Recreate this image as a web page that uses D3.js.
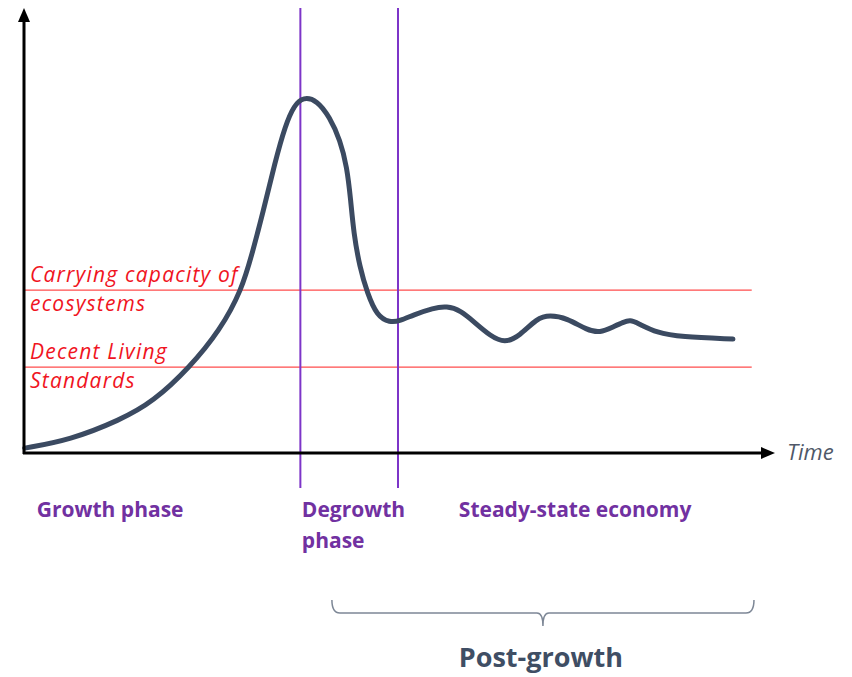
<!DOCTYPE html>
<html>
<head>
<meta charset="utf-8">
<script src="https://cdn.jsdelivr.net/npm/d3@7"></script>
<style>
  body { margin: 0; background: #fff; }
  text { font-family: "Open Sans", Lato, sans-serif; }
</style>
</head>
<body>
<div id="chart"></div>
<script>
const WIDTH = 852
const HEIGHT = 677

// curve of economic activity over time (arbitrary units, 0-100)
const time = [0.1, 6.1, 12.8, 17.2, 22.1, 26.1, 29.0, 30.5, 31.8, 33.4, 34.8, 36.0, 37.2, 39.0, 40.7,
  42.1, 43.0, 43.5, 43.9, 44.7, 45.7, 47.0, 48.7, 50.1, 51.8, 54.5, 56.3, 58.1, 60.1, 62.1,
  64.0, 66.0, 68.3, 70.0, 72.3, 75.0, 76.7, 78.4, 79.8, 80.7, 81.7, 84.3, 87.4, 94.4]
const level = [1.1, 2.9, 7.4, 11.5, 19.3, 27.6, 36.6, 45.6, 53.9, 65.2, 73.7, 78.2, 80.0, 79.3, 75.5,
  70.3, 64.3, 56.9, 49.4, 41.8, 36.0, 30.8, 29.3, 29.7, 31.0, 32.6, 33.0, 32.1, 29.2, 26.3,
  24.7, 26.3, 30.3, 31.0, 30.3, 27.6, 27.0, 28.3, 29.4, 29.9, 29.2, 27.0, 26.1, 25.6]

// horizontal thresholds
const thresholdNames = [['Carrying capacity of', 'ecosystems'], ['Decent Living', 'Standards']]
const thresholdValues = [36.6, 19.3]

// phase boundaries
const phaseBounds = [36.8, 49.8]
const phaseNames = [['Growth phase'], ['Degrowth', 'phase'], ['Steady-state economy']]
const phaseStarts = [1.7, 37.0, 57.9]

const postGrowth = { label: 'Post-growth', from: 41.0, to: 97.2 }

const x = d3.scaleLinear().domain([0, 100]).range([24, 775])
const y = d3.scaleLinear().domain([0, 100]).range([453, 8])

const svg = d3.select('#chart').append('svg')
  .attr('width', WIDTH)
  .attr('height', HEIGHT)

// thresholds
thresholdValues.forEach((v, i) => {
  svg.append('line')
    .attr('x1', x(0)).attr('x2', x(96.9))
    .attr('y1', y(v)).attr('y2', y(v))
    .attr('stroke', '#ff4d4d')
    .attr('stroke-width', 1.3)
  thresholdNames[i].forEach((t, j) => {
    svg.append('text')
      .attr('x', 30)
      .attr('y', y(v) - 8 + j * 29)
      .attr('fill', '#f0141e')
      .attr('font-style', 'italic')
      .attr('font-size', 21)
      .attr('letter-spacing', 1.2)
      .text(t)
  })
})

// phase lines
phaseBounds.forEach(b => {
  svg.append('line')
    .attr('x1', x(b)).attr('x2', x(b))
    .attr('y1', 8).attr('y2', 488)
    .attr('stroke', '#7d35c8')
    .attr('stroke-width', 2)
})

// curve
const line = d3.line()
  .x((d, i) => x(time[i]))
  .y(d => y(d))
  .curve(d3.curveBasis)

svg.append('path')
  .attr('d', line(level))
  .attr('fill', 'none')
  .attr('stroke', '#3b4a61')
  .attr('stroke-width', 5)
  .attr('stroke-linecap', 'round')

// axes
svg.append('line')
  .attr('x1', x(0)).attr('x2', x(0))
  .attr('y1', y(0) + 1).attr('y2', y(100) + 10)
  .attr('stroke', '#000').attr('stroke-width', 3)
svg.append('path')
  .attr('d', `M${x(0) - 6},${y(100) + 14}L${x(0)},${y(100)}L${x(0) + 6},${y(100) + 14}Z`)
  .attr('fill', '#000')

svg.append('line')
  .attr('x1', x(0) - 1).attr('x2', x(100) - 10)
  .attr('y1', y(0)).attr('y2', y(0))
  .attr('stroke', '#000').attr('stroke-width', 3)
svg.append('path')
  .attr('d', `M${x(100) - 14},${y(0) - 6}L${x(100)},${y(0)}L${x(100) - 14},${y(0) + 6}Z`)
  .attr('fill', '#000')

svg.append('text')
  .attr('x', x(100) + 12)
  .attr('y', y(0) + 7)
  .attr('fill', '#4f5868')
  .attr('font-style', 'italic')
  .attr('font-size', 22)
  .text('Time')

// phase labels
phaseNames.forEach((lines, i) => {
  lines.forEach((t, j) => {
    svg.append('text')
      .attr('x', x(phaseStarts[i]))
      .attr('y', 517 + j * 31)
      .attr('fill', '#7131a1')
      .attr('font-weight', 'bold')
      .attr('font-size', 21)
      .text(t)
  })
})

// post-growth bracket
const bx1 = x(postGrowth.from), bx2 = x(postGrowth.to), bmid = (bx1 + bx2) / 2
svg.append('path')
  .attr('d', `M${bx1},600 Q${bx1},613 ${bx1 + 8},613 L${bmid - 6},613 Q${bmid},613 ${bmid},626 Q${bmid},613 ${bmid + 6},613 L${bx2 - 8},613 Q${bx2},613 ${bx2},600`)
  .attr('fill', 'none')
  .attr('stroke', '#7d8796')
  .attr('stroke-width', 1.5)

svg.append('text')
  .attr('x', bmid - 2)
  .attr('y', 667)
  .attr('text-anchor', 'middle')
  .attr('fill', '#3f4e64')
  .attr('font-weight', 'bold')
  .attr('font-size', 27)
  .text(postGrowth.label)
</script>
</body>
</html>
